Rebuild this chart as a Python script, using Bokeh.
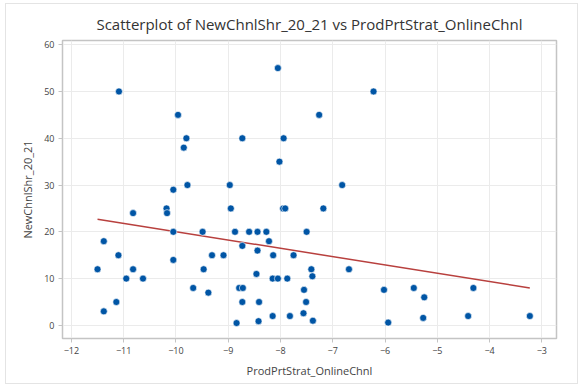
from bokeh.plotting import figure
from bokeh.models import Range1d, FixedTicker
from bokeh.embed import file_html
from bokeh.resources import INLINE

# Data
prod_prt_strat = [
    -11.50, -11.38, -11.38, -11.09, -11.10, -11.14, -10.95, -10.82, -10.82, -10.63,
    -10.18, -10.17, -10.05, -10.05, -10.05, -9.96, -9.80, -9.85, -9.78, -9.67,
    -9.49, -9.47, -9.38, -9.31, -9.09, -8.97, -8.95, -8.87, -8.84, -8.79,
    -8.72, -8.73, -8.73, -8.73, -8.60, -8.44, -8.44, -8.46, -8.41, -8.42,
    -8.27, -8.22, -8.14, -8.15, -8.05, -8.15, -8.05, -8.02, -7.94, -7.95,
    -7.91, -7.87, -7.82, -7.75, -7.50, -7.55, -7.56, -7.51, -7.41, -7.39,
    -7.38, -7.26, -7.18, -6.82, -6.69, -6.22, -6.02, -5.94, -5.45, -5.25,
    -5.27, -4.41, -4.31, -3.23,
]
new_chnl_shr = [
    12.0, 18.0, 3.0, 50.0, 15.0, 5.0, 10.0, 24.0, 12.0, 10.0,
    25.0, 24.0, 29.0, 20.0, 14.0, 45.0, 40.0, 38.0, 30.0, 8.0,
    20.0, 12.0, 7.0, 15.0, 15.0, 30.0, 25.0, 20.0, 0.5, 8.0,
    8.0, 40.0, 17.0, 5.0, 20.0, 20.0, 16.0, 11.0, 5.0, 0.9,
    20.0, 18.0, 15.0, 10.0, 10.0, 2.0, 55.0, 35.0, 40.0, 25.0,
    25.0, 10.0, 2.0, 15.0, 20.0, 7.6, 2.6, 5.0, 12.0, 10.5,
    1.0, 45.0, 25.0, 30.0, 12.0, 50.0, 7.6, 0.6, 8.0, 6.0,
    1.6, 2.0, 8.0, 2.0,
]
fit_x = [-11.50, -3.23]
fit_y = [22.7, 8.0]

x_ticks = [-12, -11, -10, -9, -8, -7, -6, -5, -4, -3]
y_ticks = [0, 10, 20, 30, 40, 50, 60]

FONT = "Open Sans"
GRID = "#EBEBEB"
FRAME = "#C4C4C4"

p = figure(width=573, height=381, output_backend="svg", toolbar_location=None,
           x_range=Range1d(-12.17, -2.72), y_range=Range1d(-2.8, 60.9),
           min_border_left=56, min_border_right=23, min_border_top=36,
           min_border_bottom=47,
           title="Scatterplot of NewChnlShr_20_21 vs ProdPrtStrat_OnlineChnl")
p.margin = (3, 0, 0, 5)
p.styles = {"border": "1px solid #E4E4E4"}

p.title.text_font = FONT
p.title.text_font_size = "15px"
p.title.text_font_style = "normal"
p.title.text_color = "#333333"
p.title.align = "center"
p.title.standoff = 13

p.outline_line_color = FRAME
p.outline_line_width = 1.5
p.background_fill_color = "white"
p.border_fill_color = "white"

p.xaxis.ticker = FixedTicker(ticks=x_ticks)
p.yaxis.ticker = FixedTicker(ticks=y_ticks)
p.xaxis.axis_label = "ProdPrtStrat_OnlineChnl"
p.yaxis.axis_label = "NewChnlShr_20_21"
for ax in (p.xaxis, p.yaxis):
    ax.axis_label_text_font = FONT
    ax.axis_label_text_font_size = "11px"
    ax.axis_label_text_font_style = "normal"
    ax.axis_label_text_color = "#444444"
    ax.major_label_text_font = FONT
    ax.major_label_text_font_size = "9px"
    ax.major_label_text_color = "#444444"
    ax.axis_line_color = FRAME
    ax.major_tick_line_color = FRAME
    ax.major_tick_out = 4
    ax.major_tick_in = 0
    ax.minor_tick_line_color = None
    ax.major_label_standoff = 4
    ax.axis_label_standoff = 6

p.xgrid.grid_line_color = GRID
p.ygrid.grid_line_color = GRID

p.line(fit_x, fit_y, line_color="#B8403E", line_width=1.5)
p.scatter(prod_prt_strat, new_chnl_shr, size=7, fill_color="#0055A5",
          line_color="white", line_width=0.6)

open("out.html", "w").write(file_html(p, INLINE))
